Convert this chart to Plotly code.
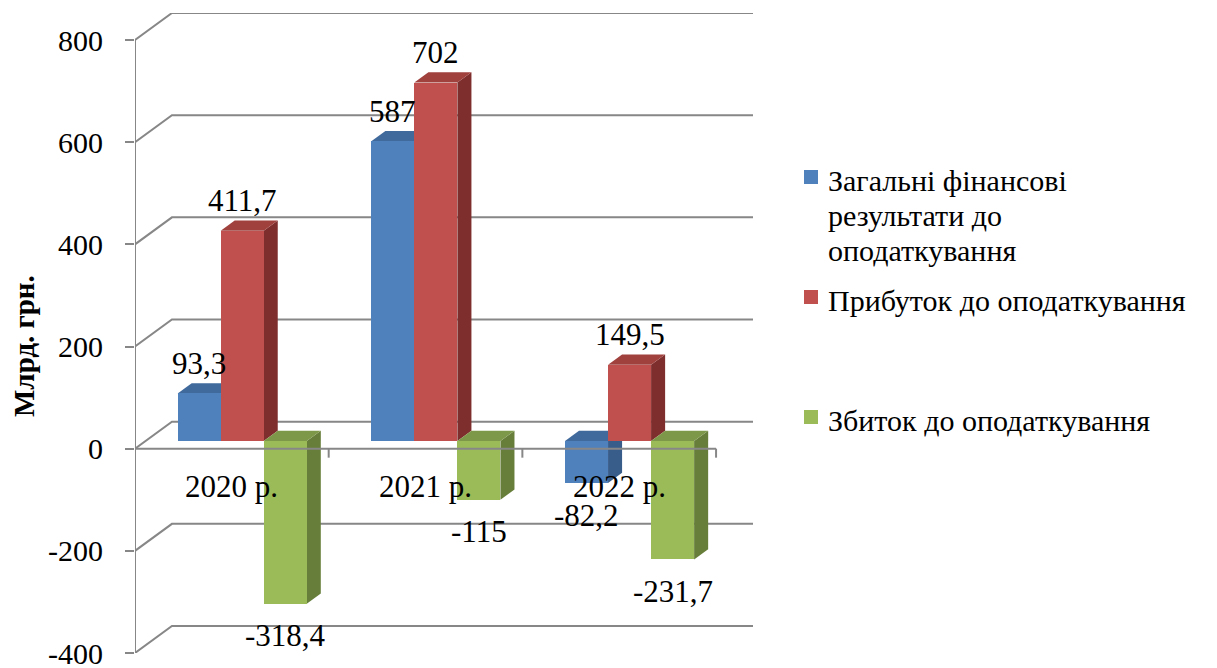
import plotly.graph_objects as go

# ---- data -------------------------------------------------------------
years = ["2020 р.", "2021 р.", "2022 р."]
series_names = [
    "Загальні фінансові<br>результати до<br>оподаткування",
    "Прибуток до оподаткування",
    "Збиток до оподаткування",
]
total_result = [93.3, 587, -82.2]
profit = [411.7, 702, 149.5]
loss = [-318.4, -115, -231.7]
y_ticks = [-400, -200, 0, 200, 400, 600, 800]
y_title = "Млрд. грн."

series_values = [total_result, profit, loss]

# face colours: front, top, side
front_colors = ["#4F81BD", "#C0504D", "#9BBB59"]
top_colors = ["#416A9C", "#A0413E", "#7E9849"]
side_colors = ["#385D8A", "#7E2F2D", "#677E3A"]

FONT = "Times New Roman, Liberation Serif, DejaVu Serif, serif"

# ---- geometry of the pseudo-3D box -----------------------------------
W, H = 1217, 668
L_PX, R_PX, T_PX, B_PX = 135, 753, 13, 653
n_cat = len(years)
y_min, y_max = y_ticks[0], y_ticks[-1]
px_per_unit = (B_PX - 40) / (y_max - y_min)       # value units -> pixels
px_per_cat = 194.0                                # category width in pixels
DEPTH_X = 37 / px_per_cat                          # wall depth, x units
DEPTH_Y = 27 / px_per_unit                         # wall depth, value units
x_lo, x_hi = -0.5, n_cat - 0.5 + DEPTH_X
y_lo, y_hi = y_min, y_max + DEPTH_Y

GAP = 1.5                                          # gap width (150 %)
bar_w = 1.0 / (len(series_values) + GAP)
F1 = 0.28                                          # depth of the bar front
BD = 0.38                                          # depth of a bar
ddx, ddy = BD * DEPTH_X, BD * DEPTH_Y
base = F1 * DEPTH_Y

GRID = "#878787"


def px2x(px):
    return (px - L_PX) / (R_PX - L_PX)


def py2y(py):
    return (B_PX - py) / (B_PX - T_PX)


def fmt(v):
    return f"{v:g}".replace(".", ",")


shapes = []
annotations = []

# back wall / floor gridlines with the left-wall diagonal
for v in y_ticks:
    shapes.append(dict(
        type="path", xref="x", yref="y", layer="below",
        path=f"M {x_lo},{v} L {x_lo + DEPTH_X},{v + DEPTH_Y} L {x_hi},{v + DEPTH_Y}",
        line=dict(color=GRID, width=2),
    ))
# vertical axis line
shapes.append(dict(type="line", xref="x", yref="y", layer="below",
                   x0=x_lo, x1=x_lo, y0=y_min, y1=y_max,
                   line=dict(color=GRID, width=2)))

fig = go.Figure()

for i, vals in enumerate(series_values):
    xs = [k - 1.5 * bar_w + (i + 0.5) * bar_w + F1 * DEPTH_X for k in range(n_cat)]
    fig.add_trace(go.Bar(
        x=xs, y=vals, base=base, width=bar_w,
        marker=dict(color=front_colors[i], line=dict(width=0)),
        showlegend=False, hoverinfo="skip",
    ))

# top and side faces, drawn beneath the front faces
for k in range(n_cat):
    for i, vals in enumerate(series_values):
        v = vals[k]
        xc = k - 1.5 * bar_w + (i + 0.5) * bar_w + F1 * DEPTH_X
        xl, xr = xc - bar_w / 2, xc + bar_w / 2
        ytop = max(v, 0) + base
        ybot = min(v, 0) + base
        shapes.append(dict(
            type="path", xref="x", yref="y", layer="below",
            path=f"M {xr},{ybot} L {xr},{ytop} L {xr + ddx},{ytop + ddy} L {xr + ddx},{ybot + ddy} Z",
            fillcolor=side_colors[i], line=dict(width=0),
        ))
        shapes.append(dict(
            type="path", xref="x", yref="y", layer="below",
            path=f"M {xl},{ytop} L {xr},{ytop} L {xr + ddx},{ytop + ddy} L {xl + ddx},{ytop + ddy} Z",
            fillcolor=top_colors[i], line=dict(width=0),
        ))
        # value label
        off = 30 / px_per_unit if v >= 0 else -32 / px_per_unit
        annotations.append(dict(
            x=xc, y=v + base + off, xref="x", yref="y",
            text=fmt(v), showarrow=False, xanchor="center", yanchor="middle",
            font=dict(family=FONT, size=31, color="black"),
        ))

# front edge of the floor (category axis) with boundary ticks
shapes.append(dict(type="line", xref="x", yref="y", layer="above",
                   x0=x_lo, x1=n_cat - 0.5, y0=0, y1=0,
                   line=dict(color=GRID, width=2)))
for k in range(n_cat):
    shapes.append(dict(type="line", xref="x", yref="y", layer="above",
                       x0=k + 0.5, x1=k + 0.5, y0=0, y1=-9 / px_per_unit,
                       line=dict(color=GRID, width=2)))

# category labels
for k, name in enumerate(years):
    annotations.append(dict(
        x=k, y=-38 / px_per_unit, xref="x", yref="y", text=name,
        showarrow=False, xanchor="center", yanchor="middle",
        font=dict(family=FONT, size=31, color="black"),
    ))

# axis title
annotations.append(dict(
    x=px2x(24), y=py2y(346), xref="paper", yref="paper",
    text=f"<b>{y_title}</b>", textangle=-90, showarrow=False,
    xanchor="center", yanchor="middle",
    font=dict(family=FONT, size=29, color="black"),
))

# legend: key squares and (possibly wrapped) entry text
legend_first_line = [180, 300, 420]
LEGEND_LINE = 35
for i, name in enumerate(series_names):
    key_y = legend_first_line[i] - 3
    shapes.append(dict(
        type="rect", xref="paper", yref="paper", layer="above",
        x0=px2x(804), x1=px2x(818), y0=py2y(key_y - 7), y1=py2y(key_y + 7),
        fillcolor=front_colors[i], line=dict(width=0),
    ))
    for j, line in enumerate(name.split("<br>")):
        annotations.append(dict(
            x=px2x(826), y=py2y(legend_first_line[i] + j * LEGEND_LINE),
            xref="paper", yref="paper",
            text=line, showarrow=False, xanchor="left", yanchor="middle", align="left",
            font=dict(family=FONT, size=30, color="black"),
        ))

fig.update_layout(
    width=W, height=H,
    margin=dict(l=L_PX, r=W - R_PX, t=T_PX, b=H - B_PX, pad=0, autoexpand=False),
    paper_bgcolor="white", plot_bgcolor="white",
    barmode="overlay", bargap=0,
    showlegend=False,
    xaxis=dict(range=[x_lo, x_hi], showgrid=False, zeroline=False, showline=False,
               showticklabels=False, ticks="", fixedrange=True, automargin=False),
    yaxis=dict(range=[y_lo, y_hi], showgrid=False, zeroline=False, showline=False,
               tickvals=y_ticks, ticktext=[str(t) for t in y_ticks],
               ticks="outside", ticklen=9, tickwidth=2, tickcolor=GRID,
               ticklabelstandoff=16, ticklabeloverflow="allow", automargin=False,
               tickfont=dict(family=FONT, size=30, color="black"), fixedrange=True),
    shapes=shapes,
    annotations=annotations,
)

fig.write_html("out.html")
